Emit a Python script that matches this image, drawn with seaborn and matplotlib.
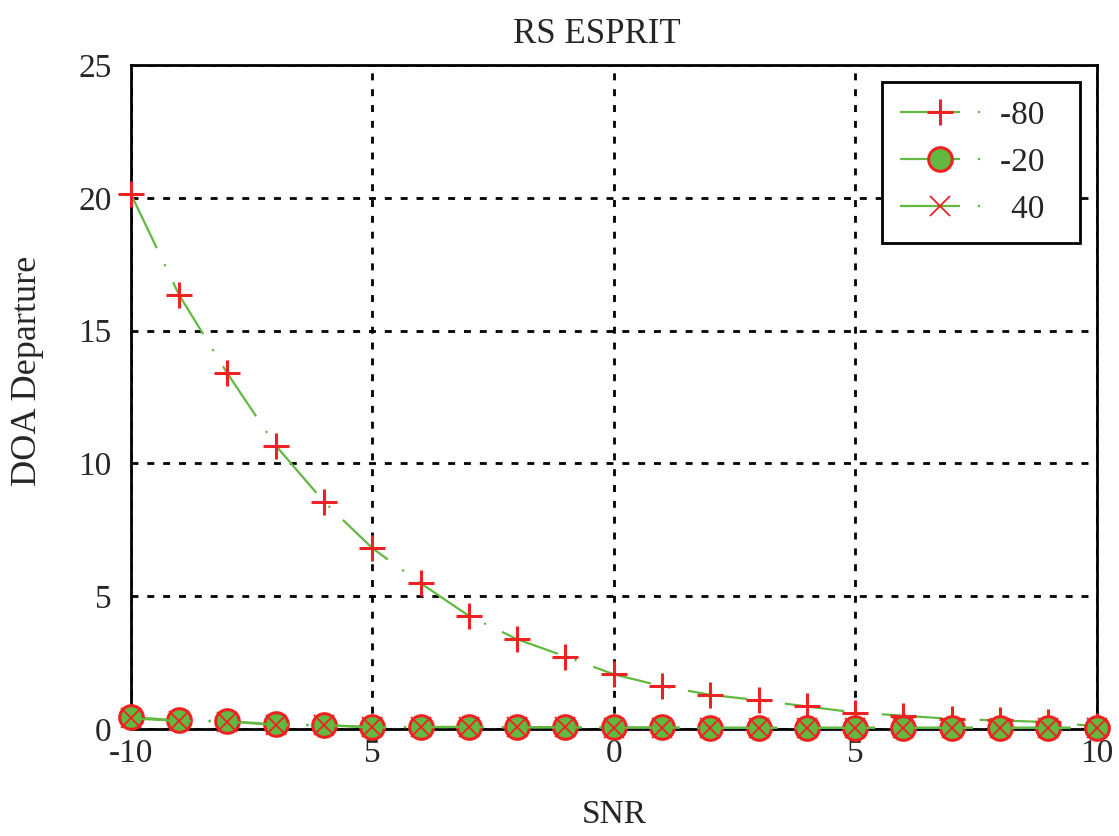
import matplotlib
matplotlib.use("Agg")
import matplotlib.pyplot as plt
import seaborn as sns

# values
snr = [-10, -9, -8, -7, -6, -5, -4, -3, -2, -1, 0, 1, 2, 3, 4, 5, 6, 7, 8, 9, 10]
doa_m80 = [20.15, 16.34, 13.39, 10.67, 8.56, 6.81, 5.49, 4.26, 3.38, 2.73, 2.06,
           1.61, 1.29, 1.08, 0.85, 0.62, 0.50, 0.38, 0.32, 0.26, 0.10]
doa_m20 = [0.45, 0.32, 0.30, 0.17, 0.15, 0.07, 0.08, 0.08, 0.07, 0.07, 0.06,
           0.06, 0.05, 0.05, 0.05, 0.05, 0.05, 0.05, 0.05, 0.05, 0.05]
doa_p40 = [0.40, 0.30, 0.28, 0.15, 0.14, 0.06, 0.07, 0.07, 0.06, 0.06, 0.05,
           0.05, 0.04, 0.04, 0.04, 0.04, 0.04, 0.04, 0.04, 0.04, 0.04]
labels = ["-80\u2002", "-20\u2002", "\u200440\u2002"]
xticks = [-10, -5, 0, 5, 10]
xticklabels = ["-10", "5", "0", "5", "10"]
yticks = [0, 5, 10, 15, 20, 25]

GREEN = "#62b840"
RED = "#ee2222"

sns.set_style("white")
plt.rcParams["font.family"] = ["Liberation Serif", "DejaVu Serif"]

fig, ax = plt.subplots(figsize=(11.19, 8.36), dpi=100)
fig.subplots_adjust(left=0.117, right=0.980, top=0.922, bottom=0.128)

# gnuplot-like dash pattern: long dash, gap, dot, gap
line_style = (0, (27, 8, 1, 8))
common = dict(ax=ax, color=GREEN, lw=1.6, linestyle=line_style, clip_on=False)

sns.lineplot(x=snr, y=doa_m80, marker="+", markersize=19, mec=RED, mew=2.2,
             label=labels[0], zorder=7, **common)
sns.lineplot(x=snr, y=doa_m20, marker="o", markersize=17, mec=RED, mfc=GREEN, mew=2.2,
             label=labels[1], zorder=8, **common)
sns.lineplot(x=snr, y=doa_p40, marker="x", markersize=14, mec=RED, mew=1.3,
             label=labels[2], zorder=9, **common)

ax.set_xlim(-10, 10)
ax.set_ylim(0, 25)
ax.set_xticks(xticks)
ax.set_xticklabels(xticklabels)
ax.set_yticks(yticks)
ax.tick_params(labelsize=24, length=0)
ax.tick_params(axis="y", pad=14)
ax.tick_params(axis="x", pad=7)

ax.grid(True, color="black", lw=2, linestyle=(0, (2.5, 3.2)))
ax.set_axisbelow(True)
for sp in ax.spines.values():
    sp.set_color("black")
    sp.set_linewidth(2)
    sp.set_zorder(6)

ax.set_title("RS ESPRIT", fontsize=25, pad=16, x=0.482)
ax.set_xlabel("SNR", fontsize=24, labelpad=22)
ax.set_ylabel("DOA Departure", fontsize=26)
ax.yaxis.set_label_coords(-0.09, 0.54)

leg = ax.legend(loc="upper right", fontsize=24, frameon=True, fancybox=False,
                handlelength=2.4, borderaxespad=0.5, labelspacing=0.5,
                borderpad=0.55, handletextpad=0.6)
leg.get_frame().set_edgecolor("black")
leg.get_frame().set_linewidth(2)
leg.get_frame().set_alpha(1)
leg.set_zorder(10)

fig.savefig("out.png", dpi=100)
